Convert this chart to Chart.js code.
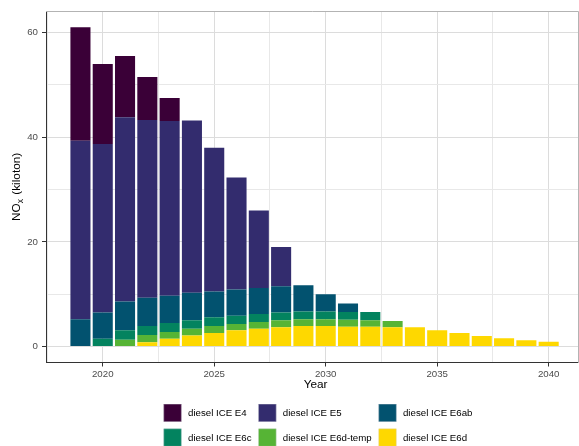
<!DOCTYPE html>
<html>
<head>
<meta charset="utf-8">
<title>Diesel NOx emissions by Euro class</title>
<script src="https://cdn.jsdelivr.net/npm/chart.js@4/dist/chart.umd.min.js"></script>
<style>
  html, body { margin: 0; padding: 0; background: #ffffff; overflow: hidden; }
  #wrap { width: 579px; height: 446px; position: relative; overflow: hidden; }
  #c { position: absolute; left: 0; top: 0; }
</style>
</head>
<body>
<div id="wrap"><canvas id="c" width="579" height="446"></canvas></div>
<script>
// NOx emissions (kiloton) of diesel passenger cars, per Euro emission class
const years = [2019, 2020, 2021, 2022, 2023, 2024, 2025, 2026, 2027, 2028, 2029,
               2030, 2031, 2032, 2033, 2034, 2035, 2036, 2037, 2038, 2039, 2040];

const e4    = [21.7, 15.3, 11.7, 8.2, 4.4, 0, 0, 0, 0, 0, 0, 0, 0, 0, 0, 0, 0, 0, 0, 0, 0, 0];
const e5    = [34.1, 32.2, 35.2, 34.0, 33.4, 32.9, 27.5, 21.4, 14.8, 7.5, 0, 0, 0, 0, 0, 0, 0, 0, 0, 0, 0, 0];
const e6ab  = [5.2, 5.0, 5.5, 5.4, 5.2, 5.3, 4.9, 5.0, 5.0, 5.0, 5.0, 3.3, 1.6, 0, 0, 0, 0, 0, 0, 0, 0, 0];
const e6c   = [0, 1.5, 1.8, 1.7, 1.7, 1.6, 1.7, 1.6, 1.5, 1.5, 1.5, 1.5, 1.5, 1.6, 0, 0, 0, 0, 0, 0, 0, 0];
const e6dt  = [0, 0, 1.3, 1.4, 1.3, 1.3, 1.3, 1.2, 1.3, 1.3, 1.3, 1.3, 1.3, 1.2, 1.2, 0, 0, 0, 0, 0, 0, 0];
const e6d   = [0, 0, 0, 0.8, 1.5, 2.1, 2.6, 3.1, 3.4, 3.7, 3.9, 3.9, 3.8, 3.8, 3.7, 3.7, 3.1, 2.6, 2.0, 1.6, 1.2, 0.9];

const seriesNames = ['diesel ICE E4', 'diesel ICE E5', 'diesel ICE E6ab',
                     'diesel ICE E6c', 'diesel ICE E6d-temp', 'diesel ICE E6d'];
const seriesColors = ['#3a0037', '#332c6e', '#02526f', '#03835f', '#56b435', '#fed800'];

const yTicks = [0, 10, 20, 30, 40, 50, 60];
const yLabelled = [0, 20, 40, 60];
const xTicks = [2017.5, 2020, 2022.5, 2025, 2027.5, 2030, 2032.5, 2035, 2037.5, 2040];
const xLabelled = [2020, 2025, 2030, 2035, 2040];

const FONT = '"Liberation Sans", Arial, Helvetica, sans-serif';

// stacked from the bottom up: newest class first
const stackOrder = [
  { name: seriesNames[5], color: seriesColors[5], values: e6d },
  { name: seriesNames[4], color: seriesColors[4], values: e6dt },
  { name: seriesNames[3], color: seriesColors[3], values: e6c },
  { name: seriesNames[2], color: seriesColors[2], values: e6ab },
  { name: seriesNames[1], color: seriesColors[1], values: e5 },
  { name: seriesNames[0], color: seriesColors[0], values: e4 }
];

const datasets = stackOrder.map(s => ({
  label: s.name,
  data: years.map((yr, i) => ({ x: yr, y: s.values[i] })),
  backgroundColor: s.color,
  borderWidth: 0,
  barPercentage: 0.9,
  categoryPercentage: 1.0
}));

// x domain: 5% padding on the left, panel ends shortly after the last year
const barHalf = 0.45;
const xSpan = (years[years.length - 1] + barHalf) - (years[0] - barHalf);
const xMin = years[0] - barHalf - 0.05 * xSpan;
const xMax = 2041.36;
const xMid = (years[0] + years[years.length - 1]) / 2;
const totals = years.map((_, i) => e4[i] + e5[i] + e6ab[i] + e6c[i] + e6dt[i] + e6d[i]);
const yTop = Math.max(...totals);
const yMin = -0.05 * yTop;
const yMax = yTop * 1.05;

const isMajorX = c => !!(c.tick && xLabelled.includes(c.tick.value));
const isMajorY = c => !!(c.tick && yLabelled.includes(c.tick.value));

const extras = {
  id: 'extras',
  afterDraw(chart) {
    const { ctx, chartArea: a } = chart;
    const xs = chart.scales.x;
    ctx.save();

    // top and right panel border
    ctx.strokeStyle = '#b3b3b3';
    ctx.lineWidth = 1;
    ctx.beginPath();
    ctx.moveTo(a.left, Math.round(a.top) + 0.5);
    ctx.lineTo(Math.round(a.right) - 0.5, Math.round(a.top) + 0.5);
    ctx.lineTo(Math.round(a.right) - 0.5, Math.round(a.bottom));
    ctx.stroke();

    // x axis title, centred under the year range
    ctx.fillStyle = '#000';
    ctx.font = `11.8px ${FONT}`;
    ctx.textAlign = 'center';
    ctx.textBaseline = 'middle';
    const midPx = xs.getPixelForValue(xMid) + 1;
    ctx.fillText('Year', midPx, 385);

    // y axis title: NO with subscript x
    ctx.save();
    ctx.translate(16, (a.top + a.bottom) / 2);
    ctx.rotate(-Math.PI / 2);
    ctx.textAlign = 'left';
    ctx.textBaseline = 'alphabetic';
    const mainFont = `11.8px ${FONT}`;
    const subFont = `8.6px ${FONT}`;
    ctx.font = mainFont;
    const w1 = ctx.measureText('NO').width;
    const w3 = ctx.measureText(' (kiloton)').width;
    ctx.font = subFont;
    const w2 = ctx.measureText('x').width;
    const total = w1 + w2 + 1 + w3;
    let x = -total / 2;
    ctx.font = mainFont;
    ctx.fillText('NO', x, 4.2);
    x += w1;
    ctx.font = subFont;
    ctx.fillText('x', x, 6.8);
    x += w2 + 1;
    ctx.font = mainFont;
    ctx.fillText(' (kiloton)', x, 4.2);
    ctx.restore();

    // legend: 3 columns x 2 rows, E4 first
    const legendItems = chart.data.datasets.slice().reverse();
    ctx.font = `9.7px ${FONT}`;
    const cols = 3, key = 17.7, textGap = 6.6, colGap = 7, rowStep = 24.7, rowTop = 404;
    const colW = [];
    for (let c = 0; c < cols; c++) {
      let w = 0;
      for (let r = 0; r * cols + c < legendItems.length; r++) {
        w = Math.max(w, ctx.measureText(legendItems[r * cols + c].label).width);
      }
      colW.push(w);
    }
    const legendW = colW.reduce((s, w) => s + key + textGap + w, 0) + colGap * (cols - 1);
    const legendLeft = midPx + 2.5 - legendW / 2;
    const colX = [];
    let cx = legendLeft;
    for (let c = 0; c < cols; c++) { colX.push(cx); cx += key + textGap + colW[c] + colGap; }
    ctx.textAlign = 'left';
    ctx.textBaseline = 'middle';
    legendItems.forEach((ds, i) => {
      const r = Math.floor(i / cols), c = i % cols;
      const kx = colX[c], ky = rowTop + r * rowStep;
      ctx.fillStyle = ds.backgroundColor;
      ctx.fillRect(kx, ky, key, key);
      ctx.strokeStyle = 'rgba(200,200,210,0.6)';
      ctx.lineWidth = 0.5;
      ctx.strokeRect(kx + 0.25, ky + 0.25, key - 0.5, key - 0.5);
      ctx.fillStyle = '#000';
      ctx.fillText(ds.label, kx + key + textGap, ky + key / 2 + 0.5);
    });
    ctx.restore();
  }
};

new Chart(document.getElementById('c'), {
  type: 'bar',
  data: { datasets },
  plugins: [extras],
  options: {
    responsive: false,
    animation: false,
    devicePixelRatio: 1,
    layout: { padding: { top: 11.3, right: 0, bottom: 0, left: 0 } },
    plugins: { legend: { display: false }, tooltip: { enabled: false } },
    scales: {
      x: {
        type: 'linear',
        stacked: true,
        offset: false,
        min: xMin,
        max: xMax,
        afterBuildTicks: s => { s.ticks = xTicks.map(v => ({ value: v })); },
        afterFit: s => { s.height = 83.5; s.paddingLeft = 0; s.paddingRight = 0; },
        ticks: {
          autoSkip: false,
          maxRotation: 0,
          padding: 2,
          color: '#4d4d4d',
          font: { family: FONT, size: 9.7 },
          callback: v => (xLabelled.includes(v) ? String(v) : '')
        },
        grid: {
          offset: false,
          color: c => (isMajorX(c) ? '#dcdcdc' : '#e8e8e8'),
          lineWidth: 1,
          tickColor: c => (isMajorX(c) ? '#333' : 'rgba(0,0,0,0)'),
          tickLength: 4
        },
        border: { display: true, color: '#333', width: 1 }
      },
      y: {
        stacked: true,
        min: yMin,
        max: yMax,
        afterBuildTicks: s => { s.ticks = yTicks.map(v => ({ value: v })); },
        afterFit: s => { s.width = 46; s.paddingTop = 0; s.paddingBottom = 0; },
        ticks: {
          padding: 4,
          color: '#4d4d4d',
          font: { family: FONT, size: 9.7 },
          callback: v => (yLabelled.includes(v) ? String(v) : '')
        },
        grid: {
          offset: false,
          color: c => (isMajorY(c) ? '#dcdcdc' : '#e8e8e8'),
          lineWidth: 1,
          tickColor: c => (isMajorY(c) ? '#333' : 'rgba(0,0,0,0)'),
          tickLength: 4
        },
        border: { display: true, color: '#333', width: 1 }
      }
    }
  }
});
</script>
</body>
</html>
